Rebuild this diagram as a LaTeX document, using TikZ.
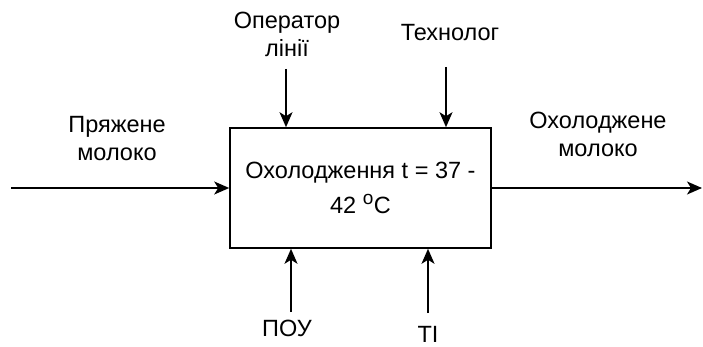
\documentclass[tikz,border=0pt]{standalone}
\usepackage{fontspec}
\setmainfont{Liberation Sans}
\usetikzlibrary{arrows.meta,positioning,calc}

\begin{document}
\begin{tikzpicture}[x=1pt, y=-1pt,
    box/.style={draw, line width=1.6pt, minimum width=261pt, minimum height=120pt,
                align=center, inner sep=0pt, font=\fontsize{23.5}{35}\selectfont},
    lbl/.style={align=center, inner sep=0pt, font=\fontsize{23.5}{28}\selectfont},
    arr/.style={-{Stealth[length=15pt, width=13pt, inset=4pt]}, line width=1.6pt}
]
    \useasboundingbox (0,0) rectangle (703,347);

    % Process
    \node[box] (cool) at (360.5,188) {Охолодження t = 37 -\\42 \textsuperscript{\fontsize{19}{19}\selectfont o}C};

    % Input and output
    \coordinate (in) at (11,188);
    \coordinate (out) at (702,188);
    \node[lbl] (milkin) at (117,139) {Пряжене\\молоко};
    \node[lbl] (milkout) at (598,134) {Охолоджене\\молоко};

    % Controls
    \coordinate (ctl1) at (286,69);
    \coordinate (ctl2) at (446,67);
    \node[lbl] (oper) at (287,34) {Оператор\\лінії};
    \node[lbl] (tech) at (450,33) {Технолог};

    % Mechanisms
    \coordinate (mech1) at (291,312);
    \coordinate (mech2) at (428,313);
    \node[lbl] (pou) at (287,328) {ПОУ};
    \node[lbl] (ti) at (428,334) {TI};

    % Arrows
    \draw[arr] (in) -- (cool.west);
    \draw[arr] (cool.east) -- (out);
    \draw[arr] (ctl1) -- (ctl1 |- cool.north);
    \draw[arr] (ctl2) -- (ctl2 |- cool.north);
    \draw[arr] (mech1) -- (mech1 |- cool.south);
    \draw[arr] (mech2) -- (mech2 |- cool.south);
\end{tikzpicture}
\end{document}
